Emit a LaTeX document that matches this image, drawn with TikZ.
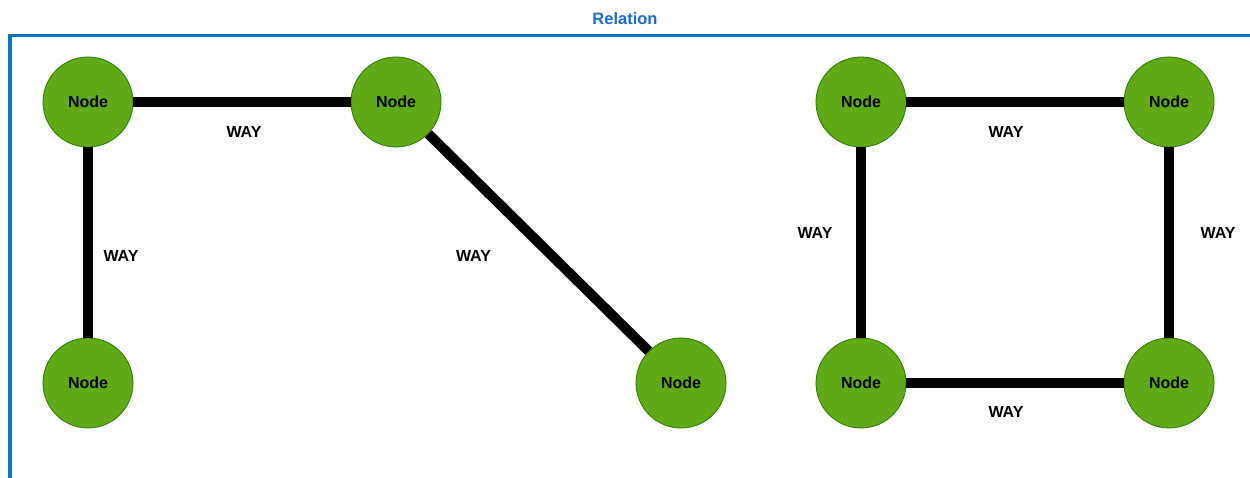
\documentclass[tikz,border=0pt]{standalone}
\usepackage{fontspec}
\setmainfont{Liberation Sans}
\definecolor{nodegreen}{HTML}{60A917}
\definecolor{nodeborder}{HTML}{2D7600}
\definecolor{framebl}{HTML}{1172BE}
\definecolor{titlebl}{HTML}{1A6AD2}
\begin{document}
\begin{tikzpicture}[x=1pt,y=-1pt,
  vertex/.style={circle,fill=nodegreen,draw=nodeborder,line width=0.8pt,minimum size=90pt,inner sep=0pt,
    font=\fontsize{16}{17}\selectfont\bfseries},
  way/.style={line width=10pt,draw=black},
  waylbl/.style={font=\fontsize{16}{17}\selectfont\bfseries,inner sep=0pt}]
\useasboundingbox (0,0) rectangle (1250,478);
\fill[white] (0,0) rectangle (1250,478);
\node[font=\fontsize{16.5}{17}\selectfont\bfseries,text=titlebl,inner sep=0pt] (title) at (625,18.5) {Relation};
\coordinate (fb) at (10,478);
\coordinate (fc) at (10,35.5);
\coordinate (fr) at (1250,35.5);
\draw[framebl,line width=3.5pt] (fb) -- (fc) -- (fr);
% left group
\node[vertex] (n1) at (88,102) {\raisebox{-1pt}{Node}};
\node[vertex] (n2) at (396,102) {\raisebox{-1pt}{Node}};
\node[vertex] (n3) at (88,383) {\raisebox{-1pt}{Node}};
\node[vertex] (n4) at (681,383) {\raisebox{-1pt}{Node}};
% right group
\node[vertex] (m1) at (861,102) {\raisebox{-1pt}{Node}};
\node[vertex] (m2) at (1169,102) {\raisebox{-1pt}{Node}};
\node[vertex] (m3) at (861,383) {\raisebox{-1pt}{Node}};
\node[vertex] (m4) at (1169,383) {\raisebox{-1pt}{Node}};
\draw[way] (n1) -- (n2) node[midway,waylbl,xshift=2pt,yshift=-29.5pt] (l1) {WAY};
\draw[way] (n1) -- (n3) node[midway,waylbl,xshift=33pt,yshift=-13pt] (l2) {WAY};
\draw[way] (n2) -- (n4) node[midway,waylbl,xshift=-65pt,yshift=-13pt] (l3) {WAY};
\draw[way] (m1) -- (m2) node[midway,waylbl,xshift=-9pt,yshift=-29.5pt] (l4) {WAY};
\draw[way] (m1) -- (m3) node[midway,waylbl,xshift=-46pt,yshift=10pt] (l5) {WAY};
\draw[way] (m2) -- (m4) node[midway,waylbl,xshift=49pt,yshift=10pt] (l6) {WAY};
\draw[way] (m3) -- (m4) node[midway,waylbl,xshift=-9pt,yshift=-29pt] (l7) {WAY};
\end{tikzpicture}
\end{document}
